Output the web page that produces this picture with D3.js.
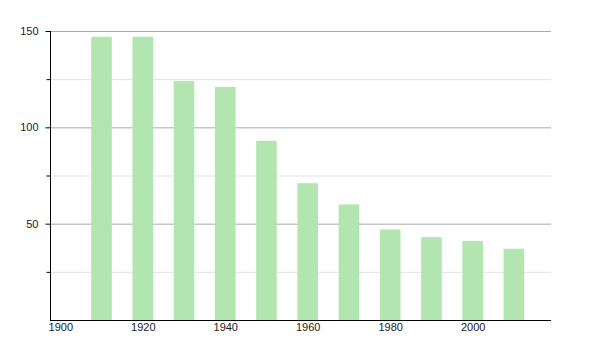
<!DOCTYPE html>
<html>
<head>
<meta charset="utf-8">
<script src="https://cdn.jsdelivr.net/npm/d3@7"></script>
<style>
  body { margin: 0; background: #fff; }
  text { font-family: "Liberation Sans", Arial, sans-serif; font-size: 11px; fill: #222; }
</style>
</head>
<body>
<svg id="chart" width="600" height="350"></svg>
<script>
const years = [1910, 1920, 1930, 1940, 1950, 1960, 1970, 1980, 1990, 2000, 2010];
const values = [147, 147, 124, 121, 93, 71, 60, 47, 43, 41, 37];
const xTicks = [1900, 1920, 1940, 1960, 1980, 2000];
const yMajor = [50, 100, 150];
const yMinor = [25, 75, 125];

const svg = d3.select('#chart');
const x = d3.scaleLinear().domain([1897.5, 2019]).range([50, 551]);
const y = d3.scaleLinear().domain([0, 150]).range([320, 31]);

// minor grid
svg.append('g')
  .selectAll('line')
  .data(yMinor)
  .join('line')
  .attr('x1', 50).attr('x2', 551)
  .attr('y1', d => y(d) + 0.5).attr('y2', d => y(d) + 0.5)
  .attr('stroke', '#e2e2e2');

// major grid
svg.append('g')
  .selectAll('line')
  .data(yMajor)
  .join('line')
  .attr('x1', 50).attr('x2', 551)
  .attr('y1', d => y(d) + 0.5).attr('y2', d => y(d) + 0.5)
  .attr('stroke', '#aaa');

// bars
const barW = x(1905) - x(1900);
svg.append('g')
  .selectAll('rect')
  .data(years)
  .join('rect')
  .attr('x', d => x(d) - barW / 2)
  .attr('y', (d, i) => y(values[i]))
  .attr('width', barW)
  .attr('height', (d, i) => y(0) - y(values[i]))
  .attr('fill', '#b2e5b0');

// y axis
const yAxis = svg.append('g').attr('transform', 'translate(50.5,0)');
yAxis.call(d3.axisLeft(y).tickValues(yMajor).tickSize(5).tickPadding(7));
yAxis.append('g')
  .selectAll('line')
  .data(yMinor)
  .join('line')
  .attr('x1', -4).attr('x2', 0)
  .attr('y1', d => y(d) + 0.5).attr('y2', d => y(d) + 0.5)
  .attr('stroke', '#000');
yAxis.select('.domain').attr('d', `M0,${y(150)}V${y(0)}`).attr('stroke', '#000');
yAxis.selectAll('.tick line').attr('stroke', '#000');
yAxis.selectAll('text').style('font-size', '11px');

// x axis
const xAxis = svg.append('g').attr('transform', `translate(0,${y(0) + 0.5})`);
xAxis.call(d3.axisBottom(x).tickValues(xTicks).tickFormat(d3.format('d')).tickSize(0).tickPadding(3));
xAxis.select('.domain').attr('d', `M50,0H551`).attr('stroke', '#000');
xAxis.selectAll('text').style('font-size', '11px');
</script>
</body>
</html>
